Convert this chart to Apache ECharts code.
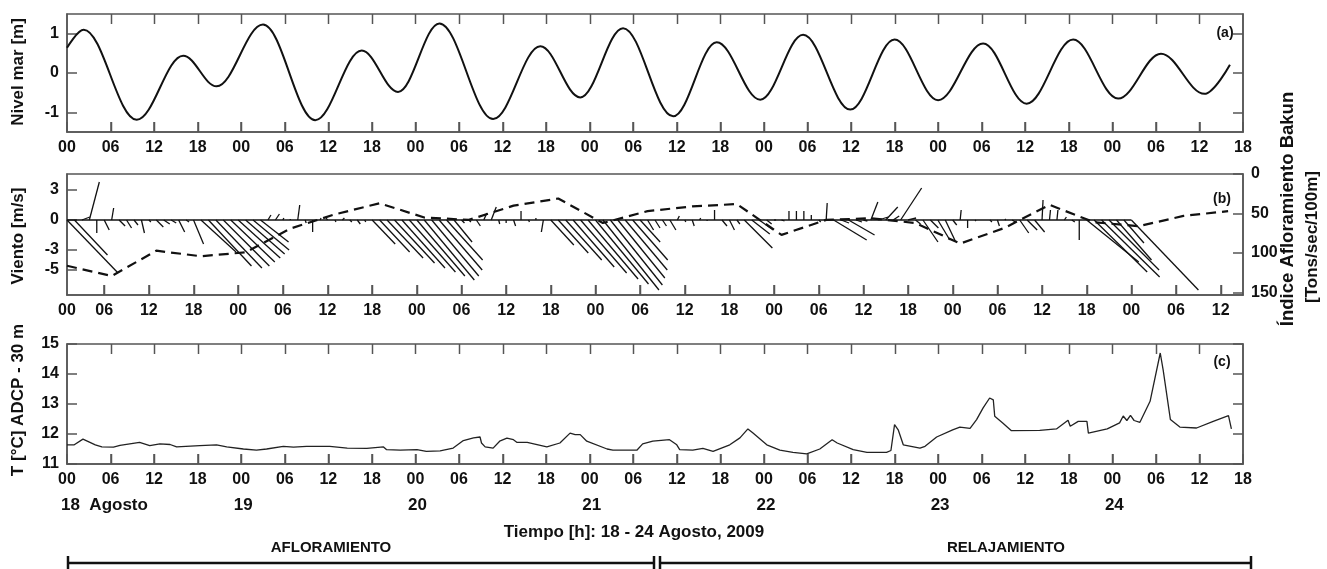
<!DOCTYPE html>
<html>
<head>
<meta charset="utf-8">
<script src="https://cdn.jsdelivr.net/npm/echarts@6/dist/echarts.min.js"></script>
<style>
  html, body { margin: 0; padding: 0; background: #fff; }
  #chart { width: 1327px; height: 569px; }
</style>
</head>
<body>
<div id="chart"></div>
<script>
// Hours are counted from 18 Aug 2009 00:00.

// (a) Sea level: successive highs and lows of the tide record [m]
const seaHour  = [0, 2.3, 9.6, 16.0, 20.6, 27.0, 34.2, 40.6, 45.6, 51.3, 58.7, 65.2, 70.7, 76.6,
                  83.5, 89.5, 95.5, 101.4, 107.9, 114.0, 120.0, 126.2, 132.2, 138.6, 144.8, 150.7, 156.7, 160.2];
const seaLevel = [0.64, 1.10, -1.19, 0.44, -0.34, 1.23, -1.20, 0.57, -0.48, 1.26, -1.17, 0.68, -0.62, 1.14,
                  -1.10, 0.78, -0.68, 0.97, -0.93, 0.85, -0.69, 0.75, -0.78, 0.85, -0.65, 0.49, -0.53, 0.21];

// (b) Hourly wind vectors [m/s]
const windHour = [1, 2, 3, 4, 5, 6, 7, 8, 9, 10, 11, 12, 13, 14, 15, 16, 17, 18, 19, 20, 21, 22, 23, 24,
                  25, 26, 27, 28, 29, 30, 31, 32, 33, 34, 35, 36, 37, 38, 39, 40, 41, 42, 43, 44, 45, 46, 47, 48,
                  49, 50, 51, 52, 53, 54, 55, 56, 57, 58, 59, 60, 61, 62, 63, 64, 65, 66, 67, 68, 69, 70, 71, 72,
                  73, 74, 75, 76, 77, 78, 79, 80, 81, 82, 83, 84, 85, 86, 87, 88, 89, 90, 91, 92, 93, 94, 95, 96,
                  97, 98, 99, 100, 101, 102, 103, 104, 105, 106, 107, 108, 109, 110, 111, 112, 113, 114, 115, 116, 117, 118, 119, 120,
                  121, 122, 123, 124, 125, 126, 127, 128, 129, 130, 131, 132, 133, 134, 135, 136, 137, 138, 139, 140, 141, 142, 143, 144];
const windU = [5.1, 3.3, 0.8, 1.0, 0.0, 0.5, 0.2, 0.6, 0.5, 0.4, 0.3, 0.2, 0.7, 0.6, 0.5, 0.6, 0.3, 1.0, 3.5, 4.3, 4.6, 4.6, 4.4, 4.2,
               3.9, 3.6, 2.8, 0.3, 0.4, 0.1, 0.0, 0.2, 0.1, 0.0, 0.1, -0.2, 0.1, 0.2, 0.2, 0.3, 0.1, 2.3, 3.0, 3.6, 4.0, 4.3, 4.6, 4.8,
               5.0, 4.7, 4.3, 3.6, 1.8, 0.3, 0.2, 0.4, 0.3, 0.5, 0.1, 0.0, 0.2, 0.0, 0.1, 0.0, -0.2, 2.3, 3.0, 3.6, 4.1, 4.6, 5.0, 5.3,
               5.6, 5.2, 4.7, 4.2, 3.5, 2.0, 0.6, 0.5, 0.4, 0.6, 0.2, 0.1, 0.2, 0.1, 0.0, 0.0, 0.5, 0.5, 0.3, 2.8, 1.8, 1.4, 0.5, 0.2,
               0.3, 0.0, 0.0, 0.0, 0.0, 0.2, 0.1, 3.3, 0.8, 2.6, 0.6, 0.4, 0.7, 1.0, 1.2, 0.6, 2.1, 0.8, 0.5, 1.5, 0.8, 1.2, 1.0, 0.4,
               0.1, 0.0, 0.1, 0.0, 0.2, 0.2, 0.1, 0.3, 0.9, 1.0, 1.0, 0.1, 0.1, 0.1, 0.2, 0.3, 0.0, 5.2, 5.3, 5.8, 5.0, 3.5, 2.0, 6.7];
const windV = [-5.3, -3.5, 0.3, 3.8, -1.3, -1.0, 1.2, -0.6, -0.8, -0.5, -1.3, -0.2, -0.7, -0.4, -0.3, -1.2, -0.2, -2.4, -3.2, -4.6, -4.8, -4.6, -4.2, -3.8,
               -3.4, -3.0, -2.2, 0.5, 0.6, 0.2, 0.1, 1.5, -0.3, -1.2, 0.2, 0.3, -0.2, 0.2, -0.2, -0.4, -0.2, -2.4, -3.2, -3.8, -4.3, -4.8, -5.2, -5.6,
               -6.0, -5.6, -5.0, -4.0, -2.2, -0.3, -0.2, -0.6, 0.7, 1.3, -0.4, -0.3, -0.6, 0.9, -0.2, 0.2, -1.2, -2.5, -3.3, -4.0, -4.7, -5.3, -5.9, -6.4,
               -7.0, -6.5, -5.8, -5.0, -4.0, -2.2, -1.0, -0.8, -0.6, -1.0, 0.4, -0.2, -0.6, 0.2, -0.1, 1.0, -0.6, -1.0, -0.4, -2.8, -1.4, -1.0, -0.4, 0.0,
               -0.1, 0.9, 0.9, 0.9, 0.5, -0.2, 1.7, -2.0, -0.3, -1.5, -0.2, -0.1, 1.8, 0.3, 1.3, 0.4, 3.2, 0.2, -0.4, -2.2, -0.8, -2.0, -2.1, -0.5,
               1.0, -0.8, -0.1, 0.0, -0.2, -0.6, 0.1, -0.2, -1.3, -1.0, -1.2, 2.0, 1.0, 1.0, 0.3, -0.2, -2.0, -4.2, -5.2, -5.7, -5.0, -4.0, -2.3, -7.0];

// (b) Bakun upwelling index, 6-hourly [Tons/sec/100m]
const bakunHour  = [1, 7, 13, 19, 25, 31, 37, 43, 49, 55, 61, 67, 73, 79, 85, 91, 97, 103, 109, 115, 121, 127, 133, 139, 145, 151, 157];
const bakunIndex = [116, 129, 97, 104, 99, 69, 51, 37, 55, 58, 40, 31, 62, 47, 41, 38, 77, 58, 56, 62, 88, 68, 39, 61, 66, 53, 47];

// (c) ADCP temperature at 30 m [°C]
const tempHour = [0, 1, 2.2, 3.9, 4.8, 6.4, 7.3, 10, 11.4, 12.8, 14.2, 15.1, 18.3, 20.6, 22, 24.3, 26.1, 27.5, 29.8, 31.2,
                  33, 36.2, 38.6, 41.3, 43.6, 44, 45.9, 48.2, 49.5, 51.4, 53.2, 54.6, 56, 56.9, 57.1, 57.6, 58.7, 59.6, 60.6, 61.5,
                  62, 63.4, 66.1, 67.9, 69.3, 70, 70.7, 71.6, 74.4, 75.2, 78.5, 79.3, 80.7, 83, 84, 84.4, 86.2, 87.6, 89, 91.3,
                  92.7, 93.8, 94.5, 96.4, 98.2, 100, 101.9, 103.7, 105.4, 106.1, 108.3, 110.2, 112.9, 113.5, 114, 114.5, 115.2, 117.5, 118.2, 119.8,
                  122, 123, 124.4, 125.3, 126.2, 127.1, 127.6, 127.8, 128.9, 130.1, 134, 136.3, 137.9, 138.2, 139.3, 140.5, 140.7, 143.3, 145, 145.5,
                  146, 146.5, 147, 147.8, 149.2, 150.6, 151, 152, 153.3, 155.6, 157.9, 160, 160.4];
const tempValue = [11.64, 11.64, 11.83, 11.64, 11.57, 11.56, 11.62, 11.72, 11.61, 11.67, 11.65, 11.57, 11.61, 11.64, 11.57, 11.50, 11.46, 11.50, 11.59, 11.56,
                   11.59, 11.59, 11.53, 11.52, 11.57, 11.48, 11.46, 11.48, 11.42, 11.44, 11.53, 11.78, 11.87, 11.90, 11.70, 11.57, 11.53, 11.76, 11.86, 11.81,
                   11.72, 11.72, 11.57, 11.70, 12.03, 11.98, 11.98, 11.76, 11.50, 11.46, 11.46, 11.67, 11.76, 11.81, 11.64, 11.48, 11.46, 11.52, 11.42, 11.64,
                   11.87, 12.17, 12.03, 11.64, 11.46, 11.39, 11.34, 11.50, 11.81, 11.70, 11.48, 11.39, 11.39, 11.45, 12.31, 12.14, 11.64, 11.53, 11.59, 11.90,
                   12.14, 12.23, 12.19, 12.48, 12.87, 13.20, 13.14, 12.59, 12.37, 12.11, 12.12, 12.17, 12.46, 12.26, 12.42, 12.42, 12.03, 12.17, 12.37, 12.60,
                   12.45, 12.62, 12.45, 12.39, 13.09, 14.70, 14.14, 12.48, 12.23, 12.20, 12.42, 12.61, 12.17];

// Axis ticks, labels and annotation texts
const hourTicks = [6, 12, 18, 24, 30, 36, 42, 48, 54, 60, 66, 72, 78, 84, 90, 96, 102, 108, 114, 120, 126, 132, 138, 144, 150, 156];
const windHourTicks = [1, 6, 12, 18, 24, 30, 36, 42, 48, 54, 60, 66, 72, 78, 84, 90, 96, 102, 108, 114, 120, 126, 132, 138, 144, 150, 156];
const seaTicks   = [-1, 0, 1];
const windTicks  = [-5, -3, 0, 3];
const bakunTicks = [0, 50, 100, 150];
const dayStart  = [0, 24, 48, 72, 96, 120, 144];
const dayLabels = ['18  Agosto', '19', '20', '21', '22', '23', '24'];
const timeTitle = 'Tiempo [h]: 18 - 24 Agosto, 2009';

// Hours of wind stick per m/s of east component, so sticks keep their true angle on screen
const STICK_SCALE = 1.345;

// Page and panel geometry
const PAGE_W = 1327, PLOT_LEFT = 67, PLOT_RIGHT = 84;
const PLOT_W = PAGE_W - PLOT_LEFT - PLOT_RIGHT;
const PANEL = { a: { top: 14, height: 118 }, b: { top: 174, height: 121 }, c: { top: 344, height: 120 } };
const HOUR_MIN = 0, HOUR_MAX = 162;      // panels (a) and (c)
const WIND_MIN = 1, WIND_MAX = 159;      // panel (b)
const hourToX = h => PLOT_LEFT + (h - HOUR_MIN) / (HOUR_MAX - HOUR_MIN) * PLOT_W;
const windHourToX = h => PLOT_LEFT + (h - WIND_MIN) / (WIND_MAX - WIND_MIN) * PLOT_W;

const FONT = '"Liberation Sans", Arial, Helvetica, sans-serif';
const INK = '#111';
const FRAME = '#555';
const TICK_LEN = 10;

const hh = v => String(((v % 24) + 24) % 24).padStart(2, '0');

const labelStyle = (extra) => Object.assign({
  color: INK, fontFamily: FONT, fontWeight: 'bold', fontSize: 16, margin: 8
}, extra || {});
const tickStyle = (extra) => Object.assign({
  show: true, inside: true, length: TICK_LEN, lineStyle: { color: FRAME, width: 1.5 }
}, extra || {});
const edge = () => ({ show: true, onZero: false, lineStyle: { color: FRAME, width: 1.5 } });

const gridBox = { show: true, borderColor: FRAME, borderWidth: 1.5, backgroundColor: 'transparent', left: PLOT_LEFT, right: PLOT_RIGHT };

// Texts, brackets and inward time ticks around the panels
const txt = (text, x, y, opts) => Object.assign({
  type: 'text', x: x, y: y, silent: true,
  style: Object.assign({ text: text, fill: INK, fontFamily: FONT, fontWeight: 'bold', fontSize: 17,
                         align: 'center', verticalAlign: 'middle' }, (opts && opts.style) || {})
}, opts && opts.rotation !== undefined ? { rotation: opts.rotation } : {});

const seg = (x1, y1, x2, y2, color, width) => ({
  type: 'line', silent: true, z: 100,
  shape: { x1: x1, y1: y1, x2: x2, y2: y2 }, style: { stroke: color, lineWidth: width }
});

const vert = Math.PI / 2;
const graphics = [
  txt('Nivel mar [m]', 18, 72, { rotation: vert }),
  txt('Viento [m/s]', 18, 236, { rotation: vert }),
  txt('T [°C] ADCP - 30 m', 18, 400, { rotation: vert }),
  txt('Índice Afloramiento Bakun', 1288, 209, { rotation: vert, style: { fontSize: 18.5 } }),
  txt('[Tons/sec/100m]', 1312, 237, { rotation: vert }),
  txt('(a)', 1225, 33, { style: { fontSize: 14 } }),
  txt('(b)', 1222, 199, { style: { fontSize: 14 } }),
  txt('(c)', 1222, 362, { style: { fontSize: 14 } }),
  txt(timeTitle, 634, 532),
  txt('AFLORAMIENTO', 331, 548, { style: { fontSize: 15 } }),
  txt('RELAJAMIENTO', 1006, 548, { style: { fontSize: 15 } })
];

dayStart.forEach((h, i) => {
  const x = hourToX(h);
  if (i === 0) {
    graphics.push(txt(dayLabels[i], x - 6, 505, { style: { align: 'left' } }));
  } else {
    graphics.push(txt(dayLabels[i], x + 2, 505));
  }
});

// time ticks: top and bottom of (a) and (c), bottom of (b)
hourTicks.forEach(h => {
  const x = Math.round(hourToX(h)) + 0.5;
  [PANEL.a, PANEL.c].forEach(p => {
    graphics.push(seg(x, p.top, x, p.top + TICK_LEN, FRAME, 1.5));
    graphics.push(seg(x, p.top + p.height, x, p.top + p.height - TICK_LEN, FRAME, 1.5));
  });
});
windHourTicks.slice(1).forEach(h => {
  const x = Math.round(windHourToX(h)) + 0.5;
  graphics.push(seg(x, PANEL.b.top + PANEL.b.height, x, PANEL.b.top + PANEL.b.height - TICK_LEN, FRAME, 1.5));
});

const bracket = (x1, x2, y) => [
  seg(x1, y, x2, y, INK, 2.5),
  seg(x1, y - 7, x1, y + 7, INK, 2.5),
  seg(x2, y - 7, x2, y + 7, INK, 2.5)
];
graphics.push(...bracket(68, 654, 563), ...bracket(660, 1251, 563));

const chart = echarts.init(document.getElementById('chart'), null, { renderer: 'canvas' });

chart.setOption({
  animation: false,
  backgroundColor: '#fff',
  grid: [
    Object.assign({}, PANEL.a, gridBox),
    Object.assign({}, PANEL.b, gridBox),
    Object.assign({}, PANEL.c, gridBox)
  ],
  xAxis: [
    { type: 'value', gridIndex: 0, position: 'bottom', min: HOUR_MIN, max: HOUR_MAX, interval: 6,
      axisLine: edge(), splitLine: { show: false },
      axisTick: tickStyle(), axisLabel: labelStyle({ formatter: hh, showMinLabel: true, showMaxLabel: true }) },
    { type: 'value', gridIndex: 1, position: 'bottom', min: WIND_MIN, max: WIND_MAX,
      axisLine: edge(), splitLine: { show: false },
      axisTick: tickStyle({ customValues: windHourTicks.slice(1) }),
      axisLabel: labelStyle({ customValues: windHourTicks, formatter: v => (v === windHourTicks[0] ? '00' : hh(v)) }) },
    { type: 'value', gridIndex: 2, position: 'bottom', min: HOUR_MIN, max: HOUR_MAX, interval: 6,
      axisLine: edge(), splitLine: { show: false },
      axisTick: tickStyle(), axisLabel: labelStyle({ formatter: hh, showMinLabel: true, showMaxLabel: true }) }
  ],
  yAxis: [
    { type: 'value', gridIndex: 0, position: 'left', min: -1.5, max: 1.5,
      axisLine: edge(), splitLine: { show: false },
      axisTick: tickStyle({ customValues: seaTicks }), axisLabel: labelStyle({ customValues: seaTicks }) },
    { type: 'value', gridIndex: 0, position: 'right', min: -1.5, max: 1.5,
      axisLine: edge(), splitLine: { show: false },
      axisTick: tickStyle({ customValues: seaTicks }), axisLabel: { show: false } },
    { type: 'value', gridIndex: 1, position: 'left', min: -7.5, max: 4.6,
      axisLine: edge(), splitLine: { show: false },
      axisTick: tickStyle({ customValues: windTicks }), axisLabel: labelStyle({ customValues: windTicks }) },
    { type: 'value', gridIndex: 1, position: 'right', min: 0, max: 153, inverse: true,
      axisLine: edge(), splitLine: { show: false },
      axisTick: tickStyle({ customValues: bakunTicks }), axisLabel: labelStyle({ customValues: bakunTicks }) },
    { type: 'value', gridIndex: 2, position: 'left', min: 11, max: 15, interval: 1,
      axisLine: edge(), splitLine: { show: false },
      axisTick: tickStyle(), axisLabel: labelStyle() },
    { type: 'value', gridIndex: 2, position: 'right', min: 11, max: 15, interval: 1,
      axisLine: edge(), splitLine: { show: false },
      axisTick: tickStyle(), axisLabel: { show: false } }
  ],
  graphic: graphics,
  series: [
    {
      name: 'Nivel mar', type: 'line', xAxisIndex: 0, yAxisIndex: 0,
      data: seaHour.map((h, i) => [h, seaLevel[i]]),
      smooth: 0.36, smoothMonotone: 'x', showSymbol: false,
      lineStyle: { color: INK, width: 2 }
    },
    {
      name: 'Viento base', type: 'line', xAxisIndex: 1, yAxisIndex: 2,
      data: [[windHour[0], 0], [windHour[windHour.length - 1], 0]],
      showSymbol: false, lineStyle: { color: INK, width: 1.5 }
    },
    {
      name: 'Viento', type: 'custom', xAxisIndex: 1, yAxisIndex: 2,
      data: windHour.map((h, i) => [h, windU[i], windV[i]]),
      renderItem: (params, api) => {
        const h = api.value(0), u = api.value(1), v = api.value(2);
        const p0 = api.coord([h, 0]);
        const p1 = api.coord([h + u * STICK_SCALE, v]);
        return {
          type: 'line',
          shape: { x1: p0[0], y1: p0[1], x2: p1[0], y2: p1[1] },
          style: { stroke: INK, lineWidth: 1.3 }
        };
      }
    },
    {
      name: 'Bakun', type: 'line', xAxisIndex: 1, yAxisIndex: 3,
      data: bakunHour.map((h, i) => [h, bakunIndex[i]]),
      showSymbol: false,
      lineStyle: { color: INK, width: 2.2, type: [10, 6] }
    },
    {
      name: 'T ADCP', type: 'line', xAxisIndex: 2, yAxisIndex: 4,
      data: tempHour.map((h, i) => [h, tempValue[i]]),
      showSymbol: false,
      lineStyle: { color: '#222', width: 1.3 }
    }
  ]
});
</script>
</body>
</html>
